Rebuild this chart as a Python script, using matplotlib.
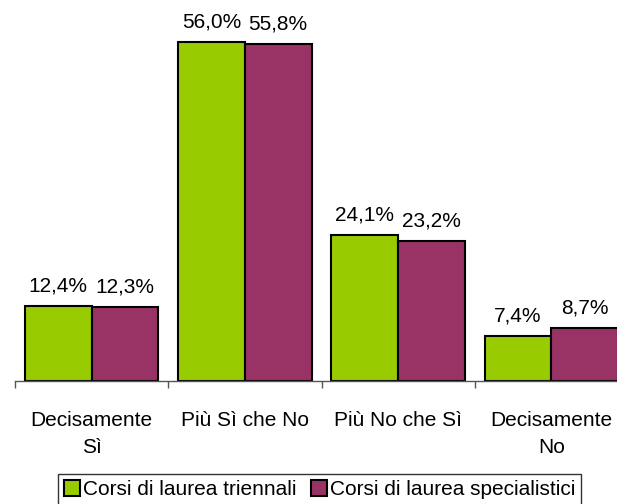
import matplotlib
matplotlib.use("Agg")
import matplotlib.pyplot as plt
import numpy as np

categories = ["Decisamente\nSì", "Più Sì che No", "Più No che Sì", "Decisamente\nNo"]
series_names = ["Corsi di laurea triennali", "Corsi di laurea specialistici"]
triennali = [12.4, 56.0, 24.1, 7.4]
specialistici = [12.3, 55.8, 23.2, 8.7]
colors = ["#99CC00", "#993366"]

plt.rcParams['font.family'] = ['Liberation Sans', 'DejaVu Sans']
FS = 15

fig = plt.figure(figsize=(6.17, 5.04), dpi=100)
W, H = 617, 504
ax = fig.add_axes([15 / W, 123 / H, 613 / W, 381 / H])

x = np.arange(len(categories))
bw = 0.435
series = [triennali, specialistici]
for i, (vals, name, c) in enumerate(zip(series, series_names, colors)):
    offs = (i - 0.5) * bw
    ax.bar(x + offs, vals, bw, color=c, edgecolor="black", linewidth=1.5, label=name)
    for xi, v in zip(x + offs, vals):
        ax.annotate(f"{v:.1f}%".replace(".", ","), (xi, v), xytext=(0, 7.5),
                    textcoords="offset points", ha="center", va="bottom", fontsize=FS)

ax.set_xlim(-0.5, len(categories) - 0.5)
ax.set_ylim(0, 63)
for s in ["top", "right", "left"]:
    ax.spines[s].set_visible(False)
ax.spines["bottom"].set_color("#555555")
ax.spines["bottom"].set_linewidth(1)
ax.set_yticks([])
ax.set_xticks(x)
ax.set_xticklabels(categories, fontsize=FS, linespacing=1.55)
ax.tick_params(axis="x", which="major", length=0, pad=21.5)
ax.set_xticks(np.arange(-0.5, len(categories)), minor=True)
ax.tick_params(axis="x", which="minor", length=5, width=1, color="#555555", direction="out")

leg = fig.legend(loc="upper center", bbox_to_anchor=(319.5 / W, 30 / H), bbox_transform=fig.transFigure,
                 ncol=2, fontsize=FS, frameon=True, fancybox=False, handlelength=0.77,
                 handleheight=0.77, handletextpad=0.15, columnspacing=0.67, borderpad=0.3,
                 borderaxespad=0)
leg.get_frame().set_edgecolor("black")
leg.get_frame().set_linewidth(1)
for h in leg.legend_handles:
    h.set_linewidth(1.5)

fig.savefig("out.png", dpi=100)
